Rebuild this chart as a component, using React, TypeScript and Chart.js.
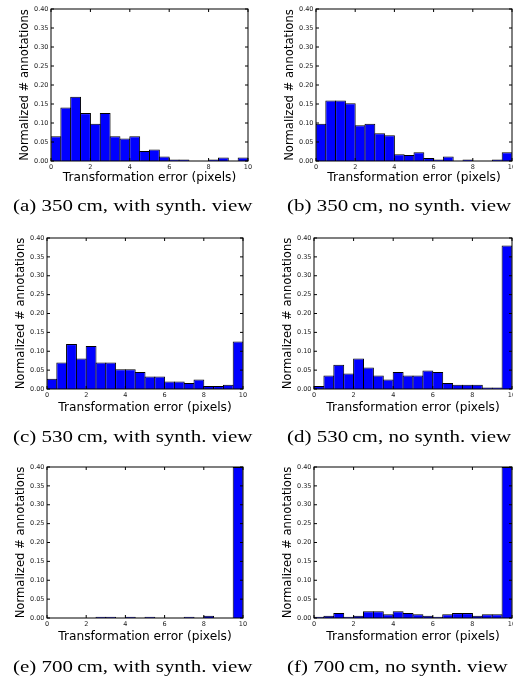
import React, { useEffect, useRef } from "react";
import { Chart, registerables } from "chart.js";

Chart.register(...registerables);
Chart.defaults.font.family = "'DejaVu Sans', sans-serif";

// Histogram bins (start of each 0.5-pixel bin)
const binStarts = [0, 0.5, 1, 1.5, 2, 2.5, 3, 3.5, 4, 4.5, 5, 5.5, 6, 6.5, 7, 7.5, 8, 8.5, 9, 9.5];
const binWidth = 0.5;
const xMin = 0;
const xMax = 10;
const yMin = 0;
const yMax = 0.4;
const xTickValues = [0, 2, 4, 6, 8, 10];
const yTickValues = [0, 0.05, 0.1, 0.15, 0.2, 0.25, 0.3, 0.35, 0.4];

const xTitle = "Transformation error (pixels)";
const yTitle = "Normalized # annotations";

// (a) 350 cm, with synth. view
const values350With = [0.065, 0.141, 0.169, 0.126, 0.098, 0.126, 0.065, 0.059, 0.065, 0.026, 0.03, 0.012, 0.004, 0.004, 0, 0, 0.004, 0.009, 0, 0.009];
// (b) 350 cm, no synth. view
const values350No = [0.098, 0.159, 0.159, 0.152, 0.094, 0.098, 0.073, 0.068, 0.018, 0.016, 0.023, 0.008, 0.004, 0.012, 0, 0.004, 0, 0, 0.004, 0.023];
// (c) 530 cm, with synth. view
const values530With = [0.027, 0.07, 0.119, 0.081, 0.114, 0.07, 0.07, 0.052, 0.052, 0.045, 0.033, 0.033, 0.02, 0.02, 0.016, 0.025, 0.008, 0.008, 0.011, 0.126];
// (d) 530 cm, no synth. view
const values530No = [0.008, 0.036, 0.064, 0.041, 0.081, 0.057, 0.036, 0.025, 0.045, 0.036, 0.036, 0.049, 0.045, 0.016, 0.011, 0.011, 0.011, 0.004, 0.004, 0.38];
// (e) 700 cm, with synth. view
const values700With = [0, 0, 0, 0, 0, 0.003, 0.003, 0, 0.003, 0, 0.003, 0, 0, 0, 0.003, 0, 0.006, 0, 0, 0.4];
// (f) 700 cm, no synth. view
const values700No = [0.003, 0.006, 0.013, 0.003, 0.006, 0.018, 0.018, 0.01, 0.018, 0.013, 0.01, 0.006, 0.003, 0.01, 0.013, 0.013, 0.006, 0.01, 0.01, 0.4];

const captions = [
  "(a) 350\u2009cm, with synth. view",
  "(b) 350\u2009cm, no synth. view",
  "(c) 530\u2009cm, with synth. view",
  "(d) 530\u2009cm, no synth. view",
  "(e) 700\u2009cm, with synth. view",
  "(f) 700\u2009cm, no synth. view",
];

const framePlugin = {
  id: "frameTicks",
  afterDatasetsDraw(chart: any) {
    const { ctx, chartArea, scales } = chart;
    const { left, right, top, bottom } = chartArea;
    const tl = 3;
    ctx.save();
    ctx.strokeStyle = "#000";
    ctx.lineWidth = 1;
    ctx.beginPath();
    for (const v of xTickValues) {
      const px = scales.x.getPixelForValue(v);
      ctx.moveTo(px, bottom);
      ctx.lineTo(px, bottom - tl);
      ctx.moveTo(px, top);
      ctx.lineTo(px, top + tl);
    }
    for (const v of yTickValues) {
      const py = scales.y.getPixelForValue(v);
      ctx.moveTo(left, py);
      ctx.lineTo(left + tl, py);
      ctx.moveTo(right, py);
      ctx.lineTo(right - tl, py);
    }
    ctx.stroke();
    ctx.strokeRect(left, top, right - left, bottom - top);
    ctx.restore();
  },
};

type Rect = { left: number; top: number; right: number; bottom: number };

function Panel({ values, plot, xTitleOff }: { values: number[]; plot: Rect; xTitleOff: number }) {
  const ref = useRef<HTMLCanvasElement>(null);
  const padTop = 10;
  const yAxisW = 51;
  const padRight = 8;
  const xAxisH = 36;
  const plotW = plot.right - plot.left;
  const plotH = plot.bottom - plot.top;
  const cw = plotW + yAxisW + padRight;
  const ch = plotH + padTop + xAxisH;
  const yTitleSize = 11.6;
  const xTitleSize = 12.2;

  useEffect(() => {
    const binPx = (plotW * binWidth) / (xMax - xMin);
    const chart = new Chart(ref.current as HTMLCanvasElement, {
      type: "bar",
      data: {
        datasets: [
          {
            data: binStarts.map((s, i) => ({ x: s + binWidth / 2, y: values[i] })),
            backgroundColor: "#0000ff",
            borderColor: "#000000",
            borderWidth: 1,
            borderSkipped: "start",
            barPercentage: 1 + 1 / binPx,
            categoryPercentage: 1,
          },
        ],
      },
      options: {
        animation: false,
        responsive: false,
        devicePixelRatio: 1,
        layout: { padding: { top: padTop, right: padRight, left: 0, bottom: 0 } },
        plugins: {
          legend: { display: false },
          tooltip: { enabled: false },
          title: { display: false },
        },
        scales: {
          x: {
            type: "linear",
            min: xMin,
            max: xMax,
            offset: false,
            afterBuildTicks: (s: any) => {
              s.ticks = xTickValues.map((v) => ({ value: v }));
            },
            grid: { display: false, drawTicks: false, offset: false },
            border: { display: false },
            ticks: {
              font: { size: 6.5 },
              color: "#222",
              padding: 2,
              maxRotation: 0,
              autoSkip: false,
              callback: (v: any) => String(v),
            },
            title: {
              display: true,
              text: xTitle,
              font: { size: xTitleSize },
              color: "#000",
              padding: { top: 0, bottom: xAxisH - xTitleOff - (xTitleSize * 1.2) / 2 },
            },
            afterFit: (s: any) => {
              s.height = xAxisH;
            },
          },
          y: {
            type: "linear",
            min: yMin,
            max: yMax,
            afterBuildTicks: (s: any) => {
              s.ticks = yTickValues.map((v) => ({ value: v }));
            },
            grid: { display: false, drawTicks: false },
            border: { display: false },
            ticks: {
              font: { size: 6.5 },
              color: "#222",
              padding: 2.5,
              autoSkip: false,
              callback: (v: any) => Number(v).toFixed(2),
            },
            title: {
              display: true,
              text: yTitle,
              font: { size: yTitleSize },
              color: "#000",
              padding: { top: yAxisW - 26 - (yTitleSize * 1.2) / 2, bottom: 0 },
            },
            afterFit: (s: any) => {
              s.width = yAxisW;
            },
          },
        },
      } as any,
      plugins: [framePlugin],
    });
    return () => chart.destroy();
  }, []);

  return (
    <canvas
      ref={ref}
      width={cw}
      height={ch}
      style={{
        position: "absolute",
        left: plot.left - yAxisW,
        top: plot.top - padTop,
        width: cw,
        height: ch,
      }}
    />
  );
}

const panels = [
  { values: values350With, plot: { left: 51, top: 9, right: 248, bottom: 161 }, xTitleOff: 17, cap: { left: 13, center: 205.5 } },
  { values: values350No, plot: { left: 316, top: 9, right: 512, bottom: 161 }, xTitleOff: 17, cap: { left: 286.5, center: 205.5 } },
  { values: values530With, plot: { left: 47, top: 238, right: 243, bottom: 389 }, xTitleOff: 18.5, cap: { left: 13, center: 437 } },
  { values: values530No, plot: { left: 314, top: 238, right: 512, bottom: 389 }, xTitleOff: 18.5, cap: { left: 286.5, center: 437 } },
  { values: values700With, plot: { left: 47, top: 467, right: 243, bottom: 618 }, xTitleOff: 18.5, cap: { left: 13, center: 667 } },
  { values: values700No, plot: { left: 314, top: 467, right: 512, bottom: 618 }, xTitleOff: 18.5, cap: { left: 286.5, center: 667 } },
];

export default function App() {
  return (
    <div
      style={{
        position: "absolute",
        left: 0,
        top: 0,
        width: 513,
        height: 683,
        overflow: "hidden",
        background: "#fff",
      }}
    >
      {panels.map((p, i) => (
        <React.Fragment key={i}>
          <Panel values={p.values} plot={p.plot} xTitleOff={p.xTitleOff} />
          <div
            style={{
              position: "absolute",
              left: p.cap.left,
              top: p.cap.center - 10,
              height: 20,
              lineHeight: "20px",
              whiteSpace: "nowrap",
              fontFamily: "'Liberation Serif', 'Times New Roman', serif",
              fontSize: 16,
              color: "#000",
              transform: "scaleX(1.31)",
              transformOrigin: "left center",
            }}
          >
            {captions[i]}
          </div>
        </React.Fragment>
      ))}
    </div>
  );
}
